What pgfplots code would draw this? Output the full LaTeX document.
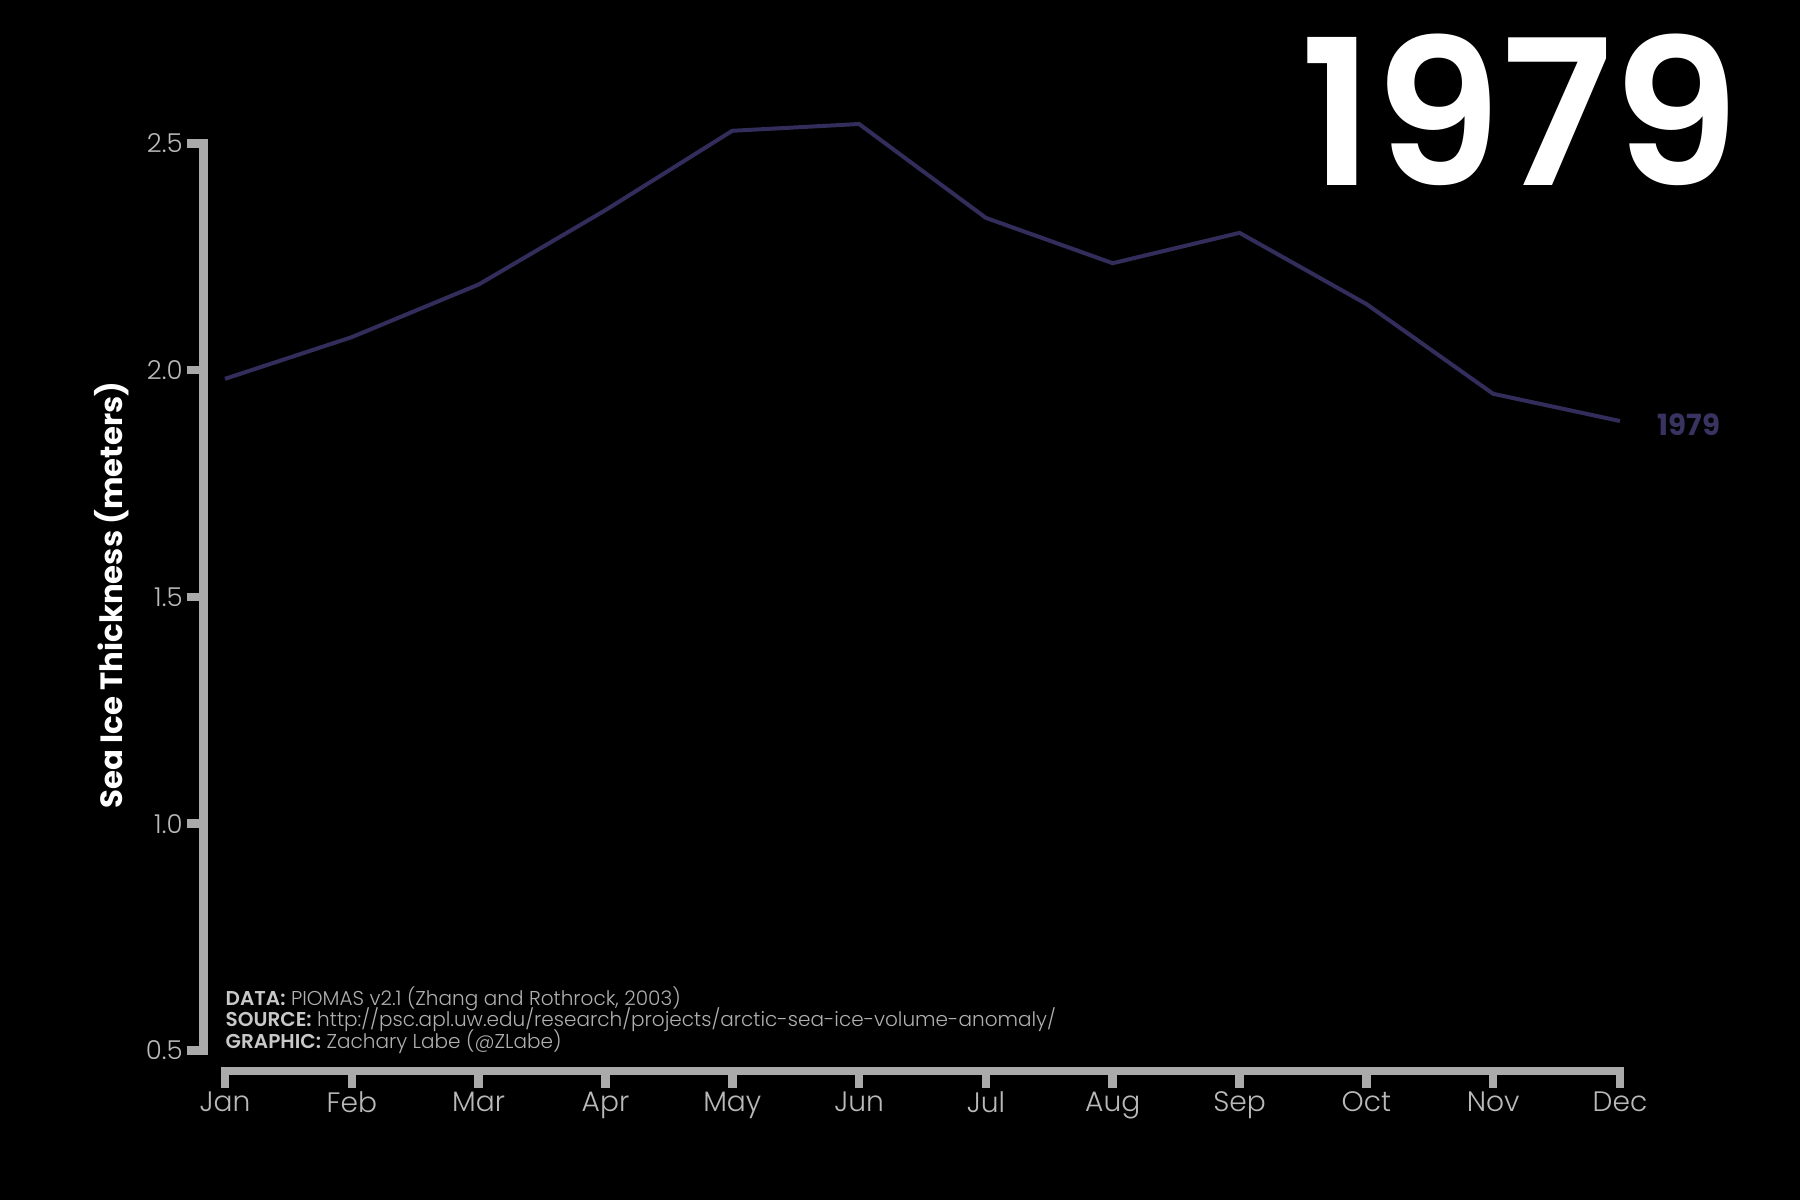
\documentclass[border=0pt]{standalone}
\usepackage{fontspec}
\setmainfont{Poppins}[UprightFont=* Light, BoldFont=* SemiBold]
\newfontfamily\titlefont{Poppins}[UprightFont=* SemiBold]
\newfontfamily\heavyfont{Poppins}[UprightFont=* Bold]
\usepackage{pgfplots}
\pgfplotsset{compat=1.18}
\definecolor{spine}{RGB}{170,170,170}
\definecolor{ticktext}{RGB}{185,185,185}
\definecolor{linecol}{RGB}{50,45,90}
\definecolor{labcol}{RGB}{56,51,96}
\definecolor{foot}{RGB}{175,175,175}
\definecolor{footb}{RGB}{200,200,200}
\begin{document}
\begin{tikzpicture}
\fill[black] (0,0) rectangle (18,12);
\useasboundingbox (0,0) rectangle (18,12);
\begin{axis}[
  at={(2.035cm,1.29cm)}, anchor=south west,
  scale only axis, width=14.165cm, height=9.275cm,
  xmin=-0.1695, xmax=11, ymin=0.4546, ymax=2.5,
  clip=false,
  axis x line*=bottom, axis y line*=left,
  axis line style={draw=none},
  tick align=outside,
  major tick length=1.65mm,
  tick style={spine, line width=0.85mm},
  xtick={0,...,11},
  xticklabels={Jan,Feb,Mar,Apr,May,Jun,Jul,Aug,Sep,Oct,Nov,Dec},
  ytick={0.5,1.0,1.5,2.0,2.5},
  yticklabels={0.5,1.0,1.5,2.0,2.5},
  xticklabel style={font=\fontsize{8}{9}\selectfont, text=ticktext, yshift=0.8mm},
  yticklabel style={font=\fontsize{7.4}{8}\selectfont, text=ticktext, xshift=0.8mm},
  ylabel={Sea Ice Thickness (meters)},
  ylabel style={at={(axis description cs:-0.0646,0.513)}, anchor=center, text=white, font=\heavyfont\fontsize{8.75}{9}\selectfont},
]
\draw[spine, line width=0.85mm, line cap=rect] (axis cs:-0.1695,0.5) -- (axis cs:-0.1695,2.5);
\draw[spine, line width=0.85mm, line cap=rect] (axis cs:0,0.4546) -- (axis cs:11,0.4546);
\addplot[linecol, line width=0.4mm, mark=none] coordinates {
  (0,1.981) (1,2.073) (2,2.189) (3,2.353) (4,2.528) (5,2.543)
  (6,2.336) (7,2.236) (8,2.303) (9,2.146) (10,1.948) (11,1.888)
};
\node[anchor=base west, inner sep=0, text=labcol, font=\heavyfont\fontsize{8.3}{10}\selectfont] at (axis cs:11.29,1.855) {1979};
\end{axis}
\node[anchor=base west, inner sep=0, text=white, font=\titlefont\fontsize{57.8}{64}\selectfont] at (13.0,10.14) {1979};
\node[anchor=base west, inner sep=0, text=foot, font=\fontsize{5.7}{6.8}\selectfont] at (2.25,1.95) {\textcolor{footb}{\textbf{DATA:}} PIOMAS v2.1 (Zhang and Rothrock, 2003)};
\node[anchor=base west, inner sep=0, text=foot, font=\fontsize{5.7}{6.8}\selectfont] at (2.25,1.73) {\textcolor{footb}{\textbf{SOURCE:}} http://psc.apl.uw.edu/research/projects/arctic-sea-ice-volume-anomaly/};
\node[anchor=base west, inner sep=0, text=foot, font=\fontsize{5.7}{6.8}\selectfont] at (2.25,1.51) {\textcolor{footb}{\textbf{GRAPHIC:}} Zachary Labe (@ZLabe)};
\end{tikzpicture}
\end{document}
